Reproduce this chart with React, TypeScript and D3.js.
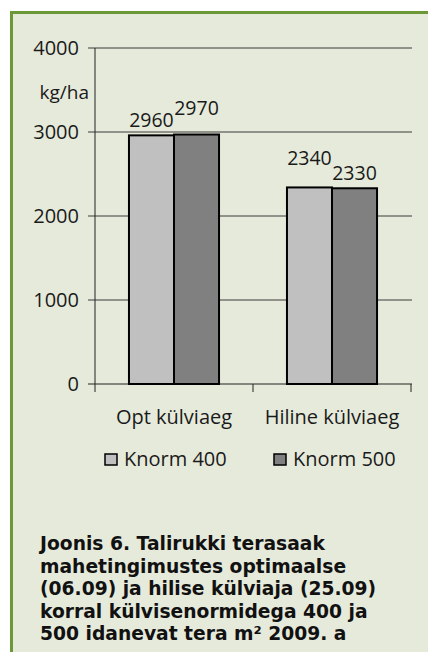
import * as d3 from "d3";

const categories = ["Opt külviaeg", "Hiline külviaeg"];
const series = ["Knorm 400", "Knorm 500"];
const knorm400 = [2960, 2340];
const knorm500 = [2970, 2330];
const yTicks = [0, 1000, 2000, 3000, 4000];
const unitLabel = "kg/ha";
const captionLines = [
  "Joonis 6. Talirukki terasaak",
  "mahetingimustes optimaalse",
  "(06.09) ja hilise külviaja (25.09)",
  "korral külvisenormidega 400 ja",
  "500 idanevat tera m² 2009. a",
];

// label lift above bar top (px), per category / series, like the original
const labelLift = [
  [8, 20],
  [22, 8],
];

const W = 428;
const H = 652;
const font = "'Open Sans', sans-serif";
const colors = ["#c0c0c0", "#808080"];

export default function App() {
  const left = 95,
    right = 411,
    top = 48,
    bottom = 384;

  const y = d3.scaleLinear().domain([0, 4000]).range([bottom, top]);
  const x0 = d3
    .scaleBand<string>()
    .domain(categories)
    .range([left, right])
    .paddingInner(0.43)
    .paddingOuter(0.215);
  const x1 = d3
    .scaleBand<string>()
    .domain(series)
    .range([0, x0.bandwidth()]);

  const values = [knorm400, knorm500];
  const step = x0.step();

  return (
    <svg
      width={W}
      height={H}
      style={{ position: "absolute", left: 0, top: 0 }}
      fontFamily={font}
    >
      <rect x={0} y={0} width={W} height={H} fill="#fff" />
      <rect
        x={11.5}
        y={12.5}
        width={W + 10}
        height={H + 10}
        fill="#e6eadb"
        stroke="#6d9838"
        strokeWidth={3}
      />

      {/* gridlines */}
      {yTicks.map((t) => (
        <line
          key={"g" + t}
          x1={left - 7}
          x2={right + 1}
          y1={y(t)}
          y2={y(t)}
          stroke={t === 0 ? "#222" : "#3a3a3a"}
          strokeWidth={1}
        />
      ))}
      <line x1={left} x2={left} y1={top} y2={bottom} stroke="#222" />
      {categories.map((c, i) => (
        <line
          key={"xt" + i}
          x1={left + i * step}
          x2={left + i * step}
          y1={bottom}
          y2={bottom + 8}
          stroke="#222"
        />
      ))}
      <line
        x1={right}
        x2={right}
        y1={bottom}
        y2={bottom + 8}
        stroke="#222"
      />

      {yTicks.map((t) => (
        <text
          key={"yl" + t}
          x={79}
          y={y(t) + 7}
          textAnchor="end"
          fontSize={20}
          fill="#1a1a1a"
        >
          {t}
        </text>
      ))}
      <text x={89} y={99} textAnchor="end" fontSize={19} fill="#1a1a1a">
        {unitLabel}
      </text>

      {/* bars */}
      {categories.map((c, ci) => (
        <g key={c} transform={`translate(${x0(c)},0)`}>
          {series.map((s, si) => {
            const v = values[si][ci];
            const bx = x1(s)!;
            return (
              <g key={s}>
                <rect
                  x={bx}
                  y={y(v)}
                  width={x1.bandwidth()}
                  height={y(0) - y(v)}
                  fill={colors[si]}
                  stroke="#000"
                  strokeWidth={2}
                />
                <text
                  x={bx + x1.bandwidth() / 2}
                  y={y(v) - labelLift[ci][si]}
                  textAnchor="middle"
                  fontSize={19.5}
                  fill="#1a1a1a"
                >
                  {v}
                </text>
              </g>
            );
          })}
          <text
            x={x0.bandwidth() / 2}
            y={424}
            textAnchor="middle"
            fontSize={20}
            fill="#1a1a1a"
          >
            {c}
          </text>
        </g>
      ))}

      {/* legend */}
      {series.map((s, i) => (
        <g key={"lg" + s} transform={`translate(${105 + i * 169},454)`}>
          <rect
            x={0}
            y={0}
            width={12}
            height={11}
            fill={colors[i]}
            stroke="#000"
            strokeWidth={1.5}
          />
          <text x={19} y={11.5} fontSize={20} fill="#1a1a1a">
            {s}
          </text>
        </g>
      ))}

      {/* caption */}
      <text
        fontSize={18.7}
        fontWeight="bold"
        fill="#111"
        fontFamily="'DejaVu Sans', sans-serif"
      >
        {captionLines.map((l, i) => (
          <tspan key={i} x={40} y={550 + i * 22.5}>
            {l}
          </tspan>
        ))}
      </text>
    </svg>
  );
}
